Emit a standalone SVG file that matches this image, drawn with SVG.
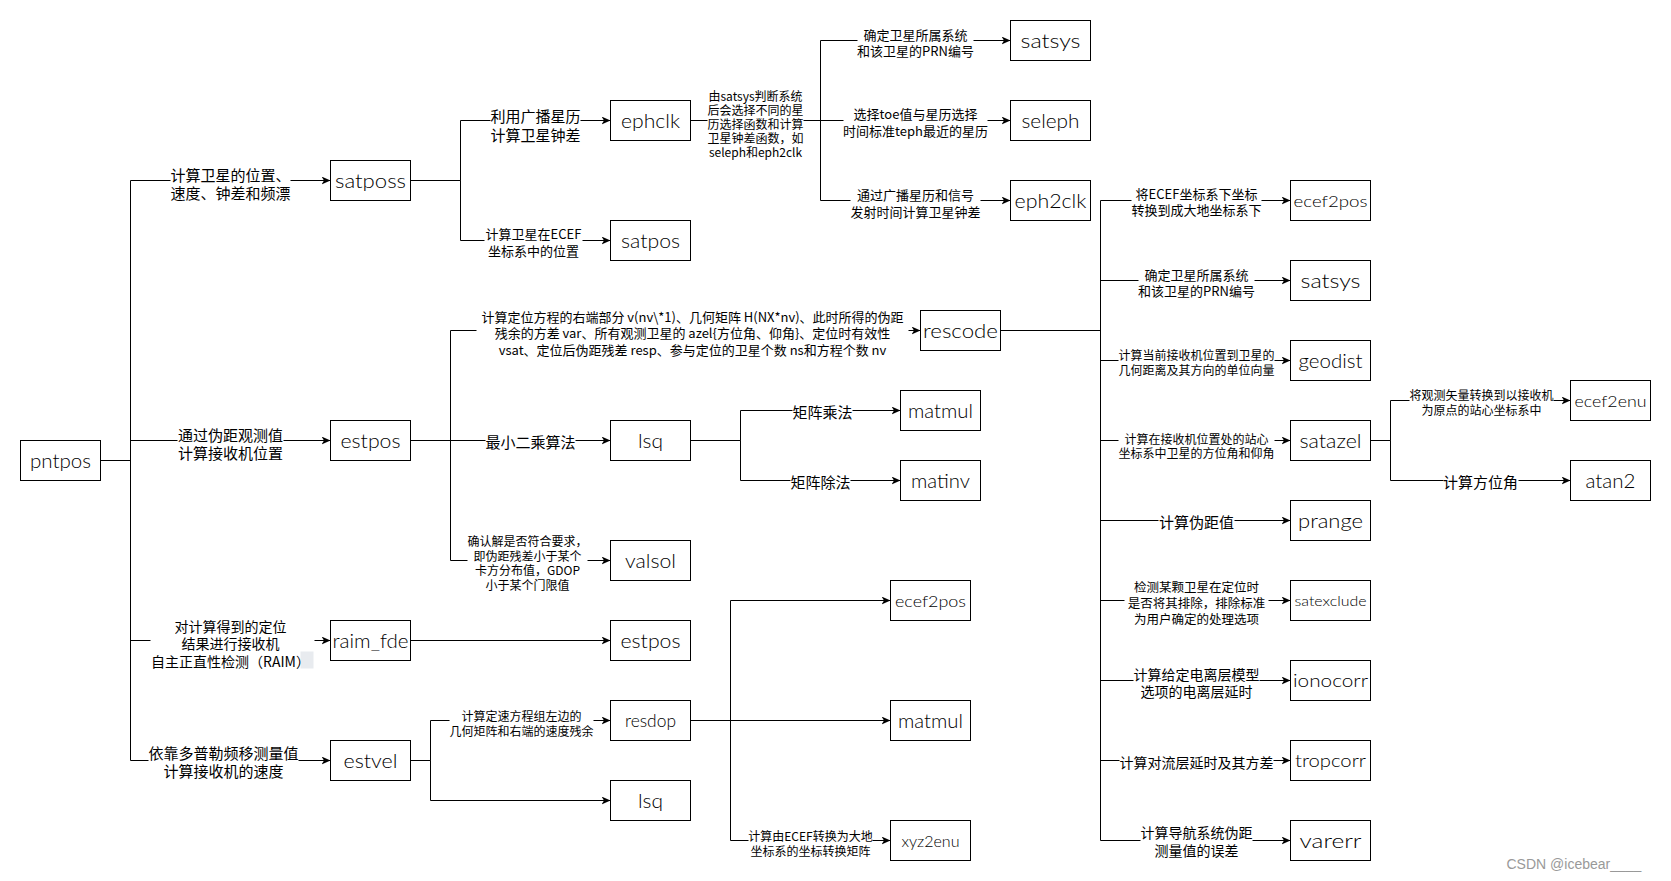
<svg xmlns="http://www.w3.org/2000/svg" width="1671" height="881" viewBox="0 0 1671 881">
<style>
.box{fill:#fff;stroke:#000;stroke-width:1}
.n{font-family:"Lato Light","Lato","Open Sans","Liberation Sans",sans-serif;font-weight:300;fill:#000;text-anchor:middle}
.e{fill:none;stroke:#000;stroke-width:1}
.bg{fill:#fff}
.l{font-family:"Noto Sans CJK SC","Liberation Sans",sans-serif;fill:#000;text-anchor:middle;dominant-baseline:central}
.s12{font-size:12px}.s125{font-size:12.5px}.s13{font-size:13px}.s14{font-size:14px}.s15{font-size:15px}
</style>
<defs>
<marker id="arr" markerWidth="10" markerHeight="8" refX="9" refY="4" orient="auto" markerUnits="userSpaceOnUse"><path d="M0,0 L9,4 L0,8 L2.5,4 Z" fill="#000"/></marker>
</defs>
<rect width="1671" height="881" fill="#fff"/>
<g transform="translate(0.5 0.5)">
<g id="connectors" class="e" marker-end="url(#arr)">
<path d="M100,460 H130 V180 H330"/>
<path d="M100,460 H130 V440 H330"/>
<path d="M100,460 H130 V640 H330"/>
<path d="M100,460 H130 V760 H330"/>
<path d="M410,180 H460 V120 H610"/>
<path d="M410,180 H460 V240 H610"/>
<path d="M690,120 H820 V40 H1010"/>
<path d="M690,120 H1010"/>
<path d="M690,120 H820 V200 H1010"/>
<path d="M410,440 H450 V330 H920"/>
<path d="M410,440 H610"/>
<path d="M410,440 H450 V560 H610"/>
<path d="M690,440 H740 V410 H900"/>
<path d="M690,440 H740 V480 H900"/>
<path d="M410,640 H610"/>
<path d="M410,760 H430 V720 H610"/>
<path d="M410,760 H430 V800 H610"/>
<path d="M690,720 H730 V600 H890"/>
<path d="M690,720 H890"/>
<path d="M690,720 H730 V840 H890"/>
<path d="M1000,330 H1100 V200 H1290"/>
<path d="M1000,330 H1100 V280 H1290"/>
<path d="M1000,330 H1100 V360 H1290"/>
<path d="M1000,330 H1100 V440 H1290"/>
<path d="M1000,330 H1100 V520 H1290"/>
<path d="M1000,330 H1100 V600 H1290"/>
<path d="M1000,330 H1100 V680 H1290"/>
<path d="M1000,330 H1100 V760 H1290"/>
<path d="M1000,330 H1100 V840 H1290"/>
<path d="M1370,440 H1390 V400 H1570"/>
<path d="M1370,440 H1390 V480 H1570"/>
</g>
<g id="edge-labels">
<rect class="bg" x="170" y="164" width="120" height="36"/>
<text class="l s15"><tspan x="230" y="173">计算卫星的位置、</tspan><tspan x="230" y="191">速度、钟差和频漂</tspan></text>
<rect class="bg" x="177" y="424" width="106" height="36"/>
<text class="l s15"><tspan x="230" y="433">通过伪距观测值</tspan><tspan x="230" y="451">计算接收机位置</tspan></text>
<rect class="bg" x="150" y="616" width="164" height="53"/>
<rect x="300" y="651" width="13" height="17" fill="#e8ebef"/>
<text class="l s14"><tspan x="230" y="625">对计算得到的定位</tspan><tspan x="230" y="642">结果进行接收机</tspan><tspan x="230" y="660">自主正直性检测（RAIM）</tspan></text>
<rect class="bg" x="148" y="742" width="150" height="37"/>
<text class="l s15"><tspan x="223" y="751">依靠多普勒频移测量值</tspan><tspan x="223" y="769">计算接收机的速度</tspan></text>
<rect class="bg" x="490" y="105" width="90" height="37"/>
<text class="l s15"><tspan x="535" y="114">利用广播星历</tspan><tspan x="535" y="133">计算卫星钟差</tspan></text>
<rect class="bg" x="484" y="224" width="98" height="33"/>
<text class="l s13"><tspan x="533" y="232">计算卫星在ECEF</tspan><tspan x="533" y="249">坐标系中的位置</tspan></text>
<rect class="bg" x="476" y="306" width="432" height="51"/>
<text class="l s13"><tspan x="692" y="315">计算定位方程的右端部分 v(nv\*1)、几何矩阵 H(NX*nv)、此时所得的伪距</tspan><tspan x="692" y="331">残余的方差 var、所有观测卫星的 azel{方位角、仰角}、定位时有效性</tspan><tspan x="692" y="348">vsat、定位后伪距残差 resp、参与定位的卫星个数 ns和方程个数 nv</tspan></text>
<rect class="bg" x="485" y="431" width="90" height="20"/>
<text class="l s15" x="530" y="441">最小二乘算法</text>
<rect class="bg" x="467" y="531" width="120" height="59"/>
<text class="l s12"><tspan x="527" y="539">确认解是否符合要求，</tspan><tspan x="527" y="554">即伪距残差小于某个</tspan><tspan x="527" y="568">卡方分布值，GDOP</tspan><tspan x="527" y="583">小于某个门限值</tspan></text>
<rect class="bg" x="792" y="400" width="60" height="20"/>
<text class="l s15" x="822" y="411">矩阵乘法</text>
<rect class="bg" x="790" y="471" width="60" height="20"/>
<text class="l s15" x="820" y="481">矩阵除法</text>
<rect class="bg" x="449" y="706" width="144" height="31"/>
<text class="l s12"><tspan x="521" y="714">计算定速方程组左边的</tspan><tspan x="521" y="729">几何矩阵和右端的速度残余</tspan></text>
<rect class="bg" x="748" y="826" width="124" height="31"/>
<text class="l s12"><tspan x="810" y="834">计算由ECEF转换为大地</tspan><tspan x="810" y="849">坐标系的坐标转换矩阵</tspan></text>
<rect class="bg" x="707" y="87" width="96" height="71"/>
<text class="l s12"><tspan x="755" y="94">由satsys判断系统</tspan><tspan x="755" y="108">后会选择不同的星</tspan><tspan x="755" y="122">历选择函数和计算</tspan><tspan x="755" y="136">卫星钟差函数，如</tspan><tspan x="755" y="150">seleph和eph2clk</tspan></text>
<rect class="bg" x="857" y="25" width="116" height="32"/>
<text class="l s13"><tspan x="915" y="33">确定卫星所属系统</tspan><tspan x="915" y="49">和该卫星的PRN编号</tspan></text>
<rect class="bg" x="843" y="104" width="144" height="33"/>
<text class="l s13"><tspan x="915" y="112">选择toe值与星历选择</tspan><tspan x="915" y="129">时间标准teph最近的星历</tspan></text>
<rect class="bg" x="850" y="185" width="130" height="33"/>
<text class="l s13"><tspan x="915" y="193">通过广播星历和信号</tspan><tspan x="915" y="210">发射时间计算卫星钟差</tspan></text>
<rect class="bg" x="1131" y="184" width="130" height="32"/>
<text class="l s13"><tspan x="1196" y="192">将ECEF坐标系下坐标</tspan><tspan x="1196" y="208">转换到成大地坐标系下</tspan></text>
<rect class="bg" x="1138" y="265" width="116" height="32"/>
<text class="l s13"><tspan x="1196" y="273">确定卫星所属系统</tspan><tspan x="1196" y="289">和该卫星的PRN编号</tspan></text>
<rect class="bg" x="1118" y="345" width="156" height="31"/>
<text class="l s12"><tspan x="1196" y="353">计算当前接收机位置到卫星的</tspan><tspan x="1196" y="368">几何距离及其方向的单位向量</tspan></text>
<rect class="bg" x="1118" y="429" width="156" height="31"/>
<text class="l s12"><tspan x="1196" y="437">计算在接收机位置处的站心</tspan><tspan x="1196" y="451">坐标系中卫星的方位角和仰角</tspan></text>
<rect class="bg" x="1158" y="511" width="76" height="20"/>
<text class="l s15" x="1196" y="521">计算伪距值</text>
<rect class="bg" x="1124" y="577" width="144" height="48"/>
<text class="l s125"><tspan x="1196" y="585">检测某颗卫星在定位时</tspan><tspan x="1196" y="601">是否将其排除，排除标准</tspan><tspan x="1196" y="617">为用户确定的处理选项</tspan></text>
<rect class="bg" x="1133" y="664" width="126" height="35"/>
<text class="l s14"><tspan x="1196" y="673">计算给定电离层模型</tspan><tspan x="1196" y="690">选项的电离层延时</tspan></text>
<rect class="bg" x="1119" y="752" width="154" height="18"/>
<text class="l s14" x="1196" y="761">计算对流层延时及其方差</text>
<rect class="bg" x="1140" y="822" width="112" height="35"/>
<text class="l s14"><tspan x="1196" y="831">计算导航系统伪距</tspan><tspan x="1196" y="849">测量值的误差</tspan></text>
<rect class="bg" x="1409" y="385" width="144" height="31"/>
<text class="l s12"><tspan x="1481" y="393">将观测矢量转换到以接收机</tspan><tspan x="1481" y="408">为原点的站心坐标系中</tspan></text>
<rect class="bg" x="1443" y="471" width="75" height="20"/>
<text class="l s15" x="1480" y="481">计算方位角</text>
</g>
<g id="pntpos"><rect class="box" x="20" y="440" width="80" height="40"/><text class="n" x="60" y="467" font-size="20" textLength="61" lengthAdjust="spacingAndGlyphs">pntpos</text></g>
<g id="satposs"><rect class="box" x="330" y="160" width="80" height="40"/><text class="n" x="370" y="187" font-size="20" textLength="71" lengthAdjust="spacingAndGlyphs">satposs</text></g>
<g id="estpos"><rect class="box" x="330" y="420" width="80" height="40"/><text class="n" x="370" y="447" font-size="20" textLength="60" lengthAdjust="spacingAndGlyphs">estpos</text></g>
<g id="raim_fde"><rect class="box" x="330" y="620" width="80" height="40"/><text class="n" x="370" y="647" font-size="19" textLength="76" lengthAdjust="spacingAndGlyphs">raim_fde</text></g>
<g id="estvel"><rect class="box" x="330" y="740" width="80" height="40"/><text class="n" x="370" y="767" font-size="19" textLength="54" lengthAdjust="spacingAndGlyphs">estvel</text></g>
<g id="ephclk"><rect class="box" x="610" y="100" width="80" height="40"/><text class="n" x="650" y="127" font-size="20" textLength="59" lengthAdjust="spacingAndGlyphs">ephclk</text></g>
<g id="satpos"><rect class="box" x="610" y="220" width="80" height="40"/><text class="n" x="650" y="247" font-size="20" textLength="59" lengthAdjust="spacingAndGlyphs">satpos</text></g>
<g id="lsq"><rect class="box" x="610" y="420" width="80" height="40"/><text class="n" x="650" y="447" font-size="20" textLength="25" lengthAdjust="spacingAndGlyphs">lsq</text></g>
<g id="valsol"><rect class="box" x="610" y="540" width="80" height="40"/><text class="n" x="650" y="567" font-size="20" textLength="51" lengthAdjust="spacingAndGlyphs">valsol</text></g>
<g id="estpos-2"><rect class="box" x="610" y="620" width="80" height="40"/><text class="n" x="650" y="647" font-size="20" textLength="60" lengthAdjust="spacingAndGlyphs">estpos</text></g>
<g id="resdop"><rect class="box" x="610" y="700" width="80" height="40"/><text class="n" x="650" y="726" font-size="17" textLength="51" lengthAdjust="spacingAndGlyphs">resdop</text></g>
<g id="lsq-2"><rect class="box" x="610" y="780" width="80" height="40"/><text class="n" x="650" y="807" font-size="20" textLength="25" lengthAdjust="spacingAndGlyphs">lsq</text></g>
<g id="rescode"><rect class="box" x="920" y="310" width="80" height="40"/><text class="n" x="960" y="337" font-size="20" textLength="75" lengthAdjust="spacingAndGlyphs">rescode</text></g>
<g id="matmul"><rect class="box" x="900" y="390" width="80" height="40"/><text class="n" x="940" y="417" font-size="20" textLength="65" lengthAdjust="spacingAndGlyphs">matmul</text></g>
<g id="matinv"><rect class="box" x="900" y="460" width="80" height="40"/><text class="n" x="940" y="487" font-size="20" textLength="59" lengthAdjust="spacingAndGlyphs">matinv</text></g>
<g id="ecef2pos-2"><rect class="box" x="890" y="580" width="80" height="40"/><text class="n" x="930" y="606" font-size="16" textLength="71" lengthAdjust="spacingAndGlyphs">ecef2pos</text></g>
<g id="matmul-2"><rect class="box" x="890" y="700" width="80" height="40"/><text class="n" x="930" y="727" font-size="20" textLength="65" lengthAdjust="spacingAndGlyphs">matmul</text></g>
<g id="xyz2enu"><rect class="box" x="890" y="820" width="80" height="40"/><text class="n" x="930" y="846" font-size="16" textLength="58" lengthAdjust="spacingAndGlyphs">xyz2enu</text></g>
<g id="satsys"><rect class="box" x="1010" y="20" width="80" height="40"/><text class="n" x="1050" y="47" font-size="20" textLength="60" lengthAdjust="spacingAndGlyphs">satsys</text></g>
<g id="seleph"><rect class="box" x="1010" y="100" width="80" height="40"/><text class="n" x="1050" y="127" font-size="20" textLength="58" lengthAdjust="spacingAndGlyphs">seleph</text></g>
<g id="eph2clk"><rect class="box" x="1010" y="180" width="80" height="40"/><text class="n" x="1050" y="207" font-size="20" textLength="72" lengthAdjust="spacingAndGlyphs">eph2clk</text></g>
<g id="ecef2pos"><rect class="box" x="1290" y="180" width="80" height="40"/><text class="n" x="1330" y="206" font-size="16" textLength="74" lengthAdjust="spacingAndGlyphs">ecef2pos</text></g>
<g id="satsys-2"><rect class="box" x="1290" y="260" width="80" height="40"/><text class="n" x="1330" y="287" font-size="20" textLength="60" lengthAdjust="spacingAndGlyphs">satsys</text></g>
<g id="geodist"><rect class="box" x="1290" y="340" width="80" height="40"/><text class="n" x="1330" y="367" font-size="20" textLength="64" lengthAdjust="spacingAndGlyphs">geodist</text></g>
<g id="satazel"><rect class="box" x="1290" y="420" width="80" height="40"/><text class="n" x="1330" y="447" font-size="20" textLength="62" lengthAdjust="spacingAndGlyphs">satazel</text></g>
<g id="prange"><rect class="box" x="1290" y="500" width="80" height="40"/><text class="n" x="1330" y="527" font-size="20" textLength="65" lengthAdjust="spacingAndGlyphs">prange</text></g>
<g id="satexclude"><rect class="box" x="1290" y="580" width="80" height="40"/><text class="n" x="1330" y="605" font-size="14" textLength="72" lengthAdjust="spacingAndGlyphs">satexclude</text></g>
<g id="ionocorr"><rect class="box" x="1290" y="660" width="80" height="40"/><text class="n" x="1330" y="686" font-size="17" textLength="75" lengthAdjust="spacingAndGlyphs">ionocorr</text></g>
<g id="tropcorr"><rect class="box" x="1290" y="740" width="80" height="40"/><text class="n" x="1330" y="766" font-size="17" textLength="71" lengthAdjust="spacingAndGlyphs">tropcorr</text></g>
<g id="varerr"><rect class="box" x="1290" y="820" width="80" height="40"/><text class="n" x="1330" y="847" font-size="20" textLength="62" lengthAdjust="spacingAndGlyphs">varerr</text></g>
<g id="ecef2enu"><rect class="box" x="1570" y="380" width="80" height="40"/><text class="n" x="1610" y="406" font-size="16" textLength="72" lengthAdjust="spacingAndGlyphs">ecef2enu</text></g>
<g id="atan2"><rect class="box" x="1570" y="460" width="80" height="40"/><text class="n" x="1610" y="487" font-size="20" textLength="50" lengthAdjust="spacingAndGlyphs">atan2</text></g>
<text x="1506" y="868" font-family="Liberation Sans, sans-serif" font-size="14" fill="#999">CSDN @icebear____</text>
</g>
</svg>
